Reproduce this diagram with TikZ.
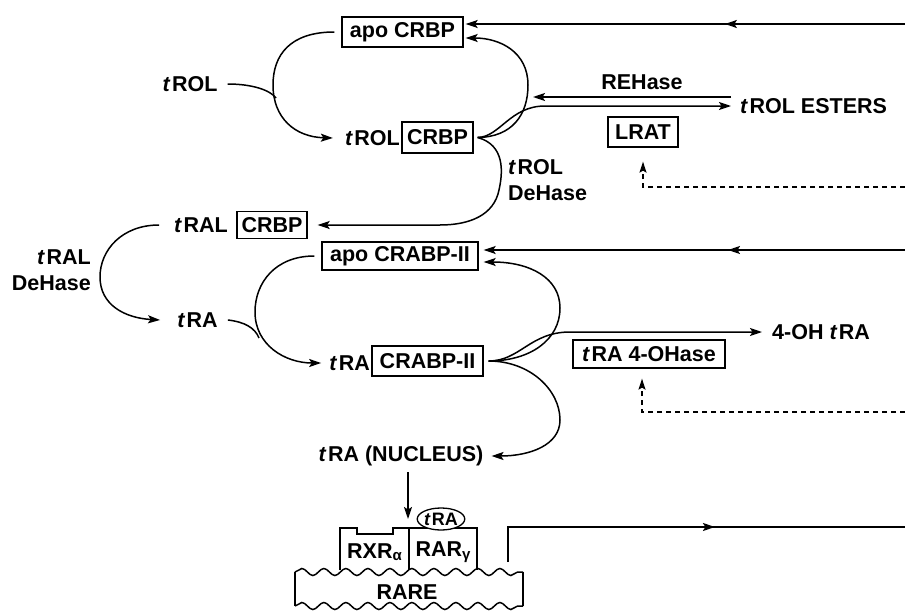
\documentclass[tikz,border=0pt]{standalone}
\usepackage{fontspec}
\setmainfont{Liberation Sans}
\usetikzlibrary{arrows.meta,decorations.pathmorphing,decorations.markings,shapes.geometric}
\newcommand\myfont{\fontsize{21.5}{26}\selectfont\bfseries}
\newcommand\tit{\textit{t}\kern1.5pt}
\tikzset{
 lbl/.style={inner sep=0pt, font=\myfont},
 bx/.style={draw, line width=1.3pt, inner sep=0pt, font=\myfont},
 con/.style={line width=1.5pt},
 arr/.style={con, -{Stealth[length=12pt,width=8pt,inset=2.5pt]}},
 midarr/.style={postaction={decorate}, decoration={markings, mark=at position #1 with {\arrow{Stealth[length=12pt,width=8pt,inset=2.5pt]}}}},
 dsh/.style={line width=1.2pt, dash pattern=on 5pt off 4pt, -{Stealth[length=11pt,width=7pt,inset=2pt]}},
 wave/.style={con, decorate, decoration={snake, segment length=22pt, amplitude=3.5pt}}
}
\begin{document}
\begin{tikzpicture}[x=1pt,y=-1pt]
\useasboundingbox (0,0) rectangle (905,613);
% nodes
\node[bx, minimum width=121pt, minimum height=30pt] (apo) at (402.5,32) {apo CRBP};
\node[lbl] (rol) at (190,84) {\tit ROL};
\node[lbl, anchor=east] (rolb) at (400,138) {\tit ROL};
\node[bx, minimum width=71pt, minimum height=31pt] (crbp1) at (437.5,137.5) {CRBP};
\node[lbl] (rehase) at (642,82) {REHase};
\node[lbl, anchor=west] (esters) at (740,106) {\tit ROL ESTERS};
\node[bx, minimum width=70pt, minimum height=30pt] (lrat) at (643,132) {LRAT};
\node[lbl, align=left, anchor=west] (roldh) at (508,180) {\tit ROL\\DeHase};
\node[lbl, align=right, anchor=east] (raldh) at (91,270) {\tit RAL\\DeHase};
\node[lbl, anchor=east] (ral) at (228,225) {\tit RAL};
\node[bx, minimum width=70pt, minimum height=27pt] (crbp2) at (272,225) {CRBP};
\node[bx, minimum width=156pt, minimum height=28pt] (apo2) at (400,256) {apo CRABP-II};
\node[lbl] (ra) at (197.5,320) {\tit RA};
\node[lbl, anchor=east] (rab) at (370,363) {\tit RA};
\node[bx, minimum width=111pt, minimum height=30pt] (crabp) at (427.5,361) {CRABP-II};
\node[lbl, anchor=west] (oh) at (772,332) {4-OH \tit RA};
\node[bx, minimum width=152pt, minimum height=28pt] (ohase) at (649,354) {\tit RA 4-OHase};
\node[lbl] (nuc) at (401,456) {\tit RA (NUCLEUS)};
% free ends
\coordinate (t1) at (905,24);
\coordinate (t2) at (905,250);
\coordinate (d1) at (905,187);
\coordinate (d2) at (905,412);
\coordinate (b1) at (905,527);
\coordinate (rh) at (533,97);
\coordinate (rtop) at (408,519);
\coordinate (rare1) at (508,562);
\coordinate (j1) at ([xshift=4pt]crbp1.east);
\coordinate (j2) at ([xshift=5pt]crabp.east);
% upper cycle
\draw[arr, midarr=0.41] (t1) -- ([shift={(2,-8)}]apo.east);
\draw[arr] (j1) .. controls (512,137) and (528,115) .. (528,85) .. controls (528,52) and (500,38) .. ([shift={(2,6)}]apo.east);
\draw[arr] (j1) .. controls (500,137) and (510,106) .. (545,106) -- ([xshift=-9pt]esters.west);
\draw[arr] ([shift={(-9,-9)}]esters.west) -- (rh);
\draw[arr] (j1) .. controls (505,145) and (503,172) .. (499,190) .. controls (494,215) and (470,225) .. (440,225) -- ([xshift=10pt]crbp2.east);
\draw[arr] ([xshift=-7pt]apo.west) .. controls (290,32) and (273,55) .. (273,85) .. controls (273,118) and (295,137) .. ([xshift=-12pt]rolb.west);
\draw[con] ([xshift=10pt]rol.east) .. controls (252,84) and (270,90) .. (276,98);
\draw[dsh] (d1) -| ([yshift=-14pt]lrat.south);
% RAL -> RA
\draw[arr] ([xshift=-15pt]ral.west) .. controls (122,225) and (100,250) .. (100,277) .. controls (100,305) and (125,318) .. ([xshift=-17pt]ra.west);
% lower cycle
\draw[arr, midarr=0.42] (t2) -- ([shift={(5,-6)}]apo2.east);
\draw[arr] ([xshift=-7pt]apo2.west) .. controls (275,256) and (255,283) .. (255,312) .. controls (255,345) and (285,363) .. ([xshift=-8pt]rab.west);
\draw[con] ([xshift=10pt]ra.east) .. controls (245,322) and (255,328) .. (259,338);
\draw[arr] (j2) .. controls (530,361) and (560,340) .. (560,308) .. controls (560,278) and (530,262) .. ([shift={(5,6)}]apo2.east);
\draw[arr] (j2) .. controls (520,361) and (530,332) .. (570,332) -- ([xshift=-10pt]oh.west);
\draw[arr] (j2) .. controls (530,361) and (560,390) .. (560,420) .. controls (560,445) and (530,456) .. ([xshift=8pt]nuc.east);
\draw[dsh] (d2) -| ([shift={(-7,10)}]ohase.south);
% nucleus
\draw[arr] ([shift={(7,6)}]nuc.south) -- (rtop);
\draw[wave] (295,572) -- (523,572);
\draw[wave] (295,606) -- (523,606);
\draw[con] (295,572) -- (295,606);
\draw[con] (523,572) -- (523,606);
\draw[con] (340,570) -- (340,528) -- (357,528) -- (357,534) -- (393,534) -- (393,528) -- (477,528) -- (477,570);
\draw[con] (409,528) -- (409,570);
\node[draw, ellipse, line width=1.3pt, fill=white, minimum width=42pt, minimum height=22pt, inner sep=0pt, font=\fontsize{18}{18}\selectfont\bfseries] (rae) at (441,519) {\textit{t}\kern1pt RA};
\node[lbl] (rxr) at (374.5,552) {RXR\raisebox{-2pt}{\fontsize{15}{15}\selectfont α}};
\node[lbl] (rar) at (443,552) {RAR\raisebox{-3pt}{\fontsize{15}{15}\selectfont γ}};
\node[lbl] (rare) at (407,592) {RARE};
\draw[con, midarr=0.56] (rare1) -- (508,527) -- (b1);
\end{tikzpicture}
\end{document}
